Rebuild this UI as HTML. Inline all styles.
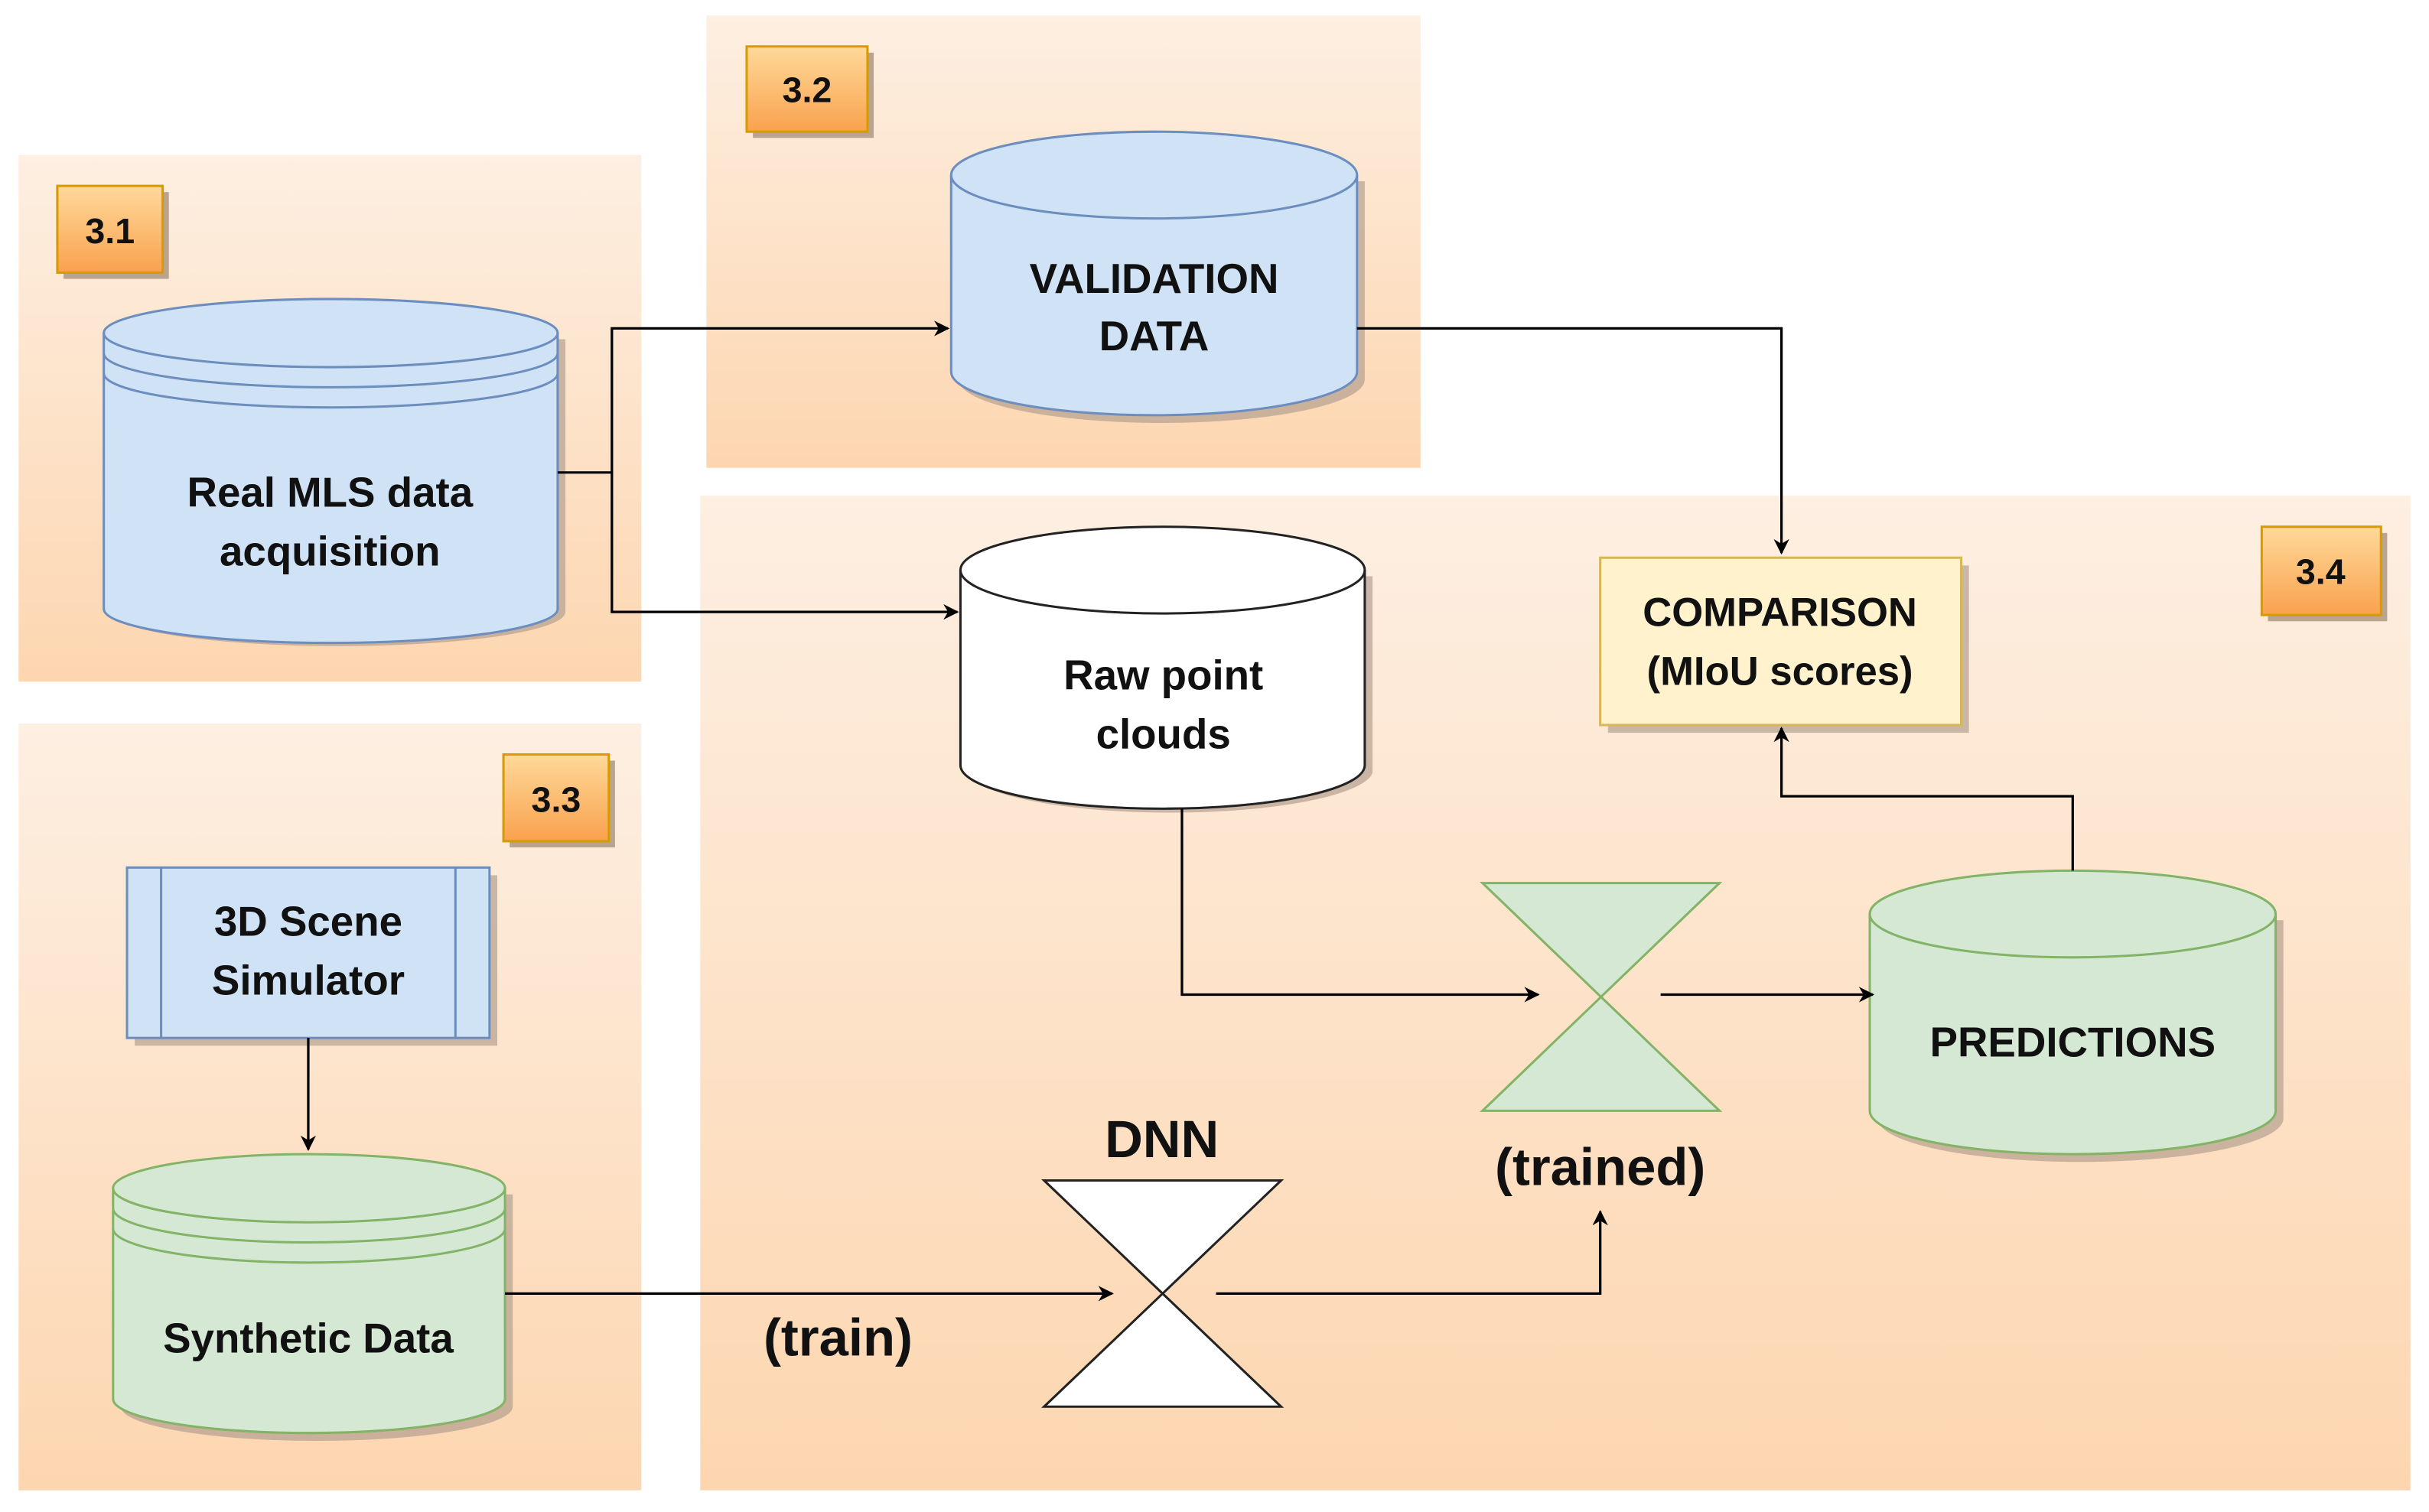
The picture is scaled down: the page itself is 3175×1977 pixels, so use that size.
<!DOCTYPE html>
<html><head><meta charset="utf-8"><style>
html,body{margin:0;padding:0;background:#fff;}
svg{display:block;}
text{font-family:"Liberation Sans",Arial,sans-serif;font-weight:bold;fill:#111;text-anchor:middle;}
</style></head><body>
<svg width="3175" height="1977" viewBox="0 0 1568 976" preserveAspectRatio="none" xmlns="http://www.w3.org/2000/svg">
<defs>
<linearGradient id="pg" x1="0" y1="0" x2="0" y2="1"><stop offset="0" stop-color="#fdefe2"/><stop offset="1" stop-color="#fdd6b0"/></linearGradient>
<linearGradient id="bg" x1="0" y1="0" x2="0" y2="1"><stop offset="0" stop-color="#ffd99a"/><stop offset="1" stop-color="#f9a24e"/></linearGradient>
<marker id="ar" markerWidth="10" markerHeight="10" refX="9" refY="5" orient="auto" markerUnits="userSpaceOnUse"><path d="M0,0 L10,5 L0,10 L3,5 z" fill="#000"/></marker>
</defs>
<rect x="12" y="100" width="402" height="340" fill="url(#pg)"/>
<rect x="456" y="10" width="461" height="292" fill="url(#pg)"/>
<rect x="12" y="467" width="402" height="495" fill="url(#pg)"/>
<rect x="452" y="320" width="1104" height="642" fill="url(#pg)"/>

<g stroke="#d79b00" stroke-width="1.5">
<rect x="41" y="124" width="68" height="56" fill="#b9a48f" stroke="none"/>
<rect x="37" y="120" width="68" height="56" fill="url(#bg)"/>
<rect x="486" y="34" width="78" height="55" fill="#b9a48f" stroke="none"/>
<rect x="482" y="30" width="78" height="55" fill="url(#bg)"/>
<rect x="329" y="491" width="68" height="56" fill="#b9a48f" stroke="none"/>
<rect x="325" y="487" width="68" height="56" fill="url(#bg)"/>
<rect x="1464" y="344" width="77" height="57" fill="#b9a48f" stroke="none"/>
<rect x="1460" y="340" width="77" height="57" fill="url(#bg)"/>
</g>
<text x="71" y="157" font-size="23">3.1</text>
<text x="521" y="66" font-size="23">3.2</text>
<text x="359" y="524" font-size="23">3.3</text>
<text x="1498" y="377" font-size="23">3.4</text>

<!-- shadows -->
<g fill="#b3a090" opacity="0.7">
<path d="M72,219 v176 a146,22 0 0 0 293,0 v-176 z"/>
<path d="M619,117 v128 a131,28 0 0 0 262,0 v-128 z"/>
<path d="M625,372 v127 a131,28 0 0 0 261,0 v-127 z"/>
<path d="M1212,594 v128 a131,28 0 0 0 262,0 v-128 z"/>
<path d="M78,771 v137 a126,22 0 0 0 253,0 v-137 z"/>
<rect x="87" y="565" width="234" height="110"/>
<rect x="1038" y="365" width="233" height="108"/>
</g>

<!-- Real MLS -->
<g stroke="#6c8ebf" stroke-width="1.5" fill="#d0e3f6">
<path d="M67,215 v178 a146.5,22 0 0 0 293,0 v-178 a146.5,22 0 0 0 -293,0 z"/>
<path d="M67,215 a146.5,22 0 0 0 293,0" fill="none"/>
<path d="M67,228 a146.5,22 0 0 0 293,0" fill="none"/>
<path d="M67,241 a146.5,22 0 0 0 293,0" fill="none"/>
</g>
<text x="213" y="327" font-size="27">Real MLS data</text>
<text x="213" y="365" font-size="27">acquisition</text>

<!-- Validation -->
<g stroke="#6c8ebf" stroke-width="1.5" fill="#d0e3f6">
<path d="M614,113 v127 a131,28 0 0 0 262,0 v-127 a131,28 0 0 0 -262,0 z"/>
<path d="M614,113 a131,28 0 0 0 262,0" fill="none"/>
</g>
<text x="745" y="189" font-size="27">VALIDATION</text>
<text x="745" y="226" font-size="27">DATA</text>

<!-- Raw point clouds -->
<g stroke="#222" stroke-width="1.5" fill="#fff">
<path d="M620,368 v126 a130.5,28 0 0 0 261,0 v-126 a130.5,28 0 0 0 -261,0 z"/>
<path d="M620,368 a130.5,28 0 0 0 261,0" fill="none"/>
</g>
<text x="751" y="445" font-size="27">Raw point</text>
<text x="751" y="483" font-size="27">clouds</text>

<!-- Comparison -->
<rect x="1033" y="360" width="233" height="108" fill="#fff2cc" stroke="#d6b656" stroke-width="1.5"/>
<text x="1149" y="404" font-size="26">COMPARISON</text>
<text x="1149" y="442" font-size="26">(MIoU scores)</text>

<!-- Predictions -->
<g stroke="#82b366" stroke-width="1.5" fill="#d5e8d4">
<path d="M1207,590 v127 a131,28 0 0 0 262,0 v-127 a131,28 0 0 0 -262,0 z"/>
<path d="M1207,590 a131,28 0 0 0 262,0" fill="none"/>
</g>
<text x="1338" y="682" font-size="27">PREDICTIONS</text>

<!-- trained hourglass -->
<path d="M957,570 L1110,570 L957,717 L1110,717 z" fill="#d5e8d4" stroke="#82b366" stroke-width="1.5"/>
<text x="1033" y="765" font-size="34">(trained)</text>

<!-- DNN hourglass -->
<path d="M674,762 L827,762 L674,908 L827,908 z" fill="#fff" stroke="#222" stroke-width="1.5"/>
<text x="750" y="747" font-size="34">DNN</text>
<text x="541" y="875" font-size="34">(train)</text>

<!-- Simulator -->
<g stroke="#6c8ebf" stroke-width="1.5" fill="#d0e3f6">
<rect x="82" y="560" width="234" height="110"/>
<line x1="104" y1="560" x2="104" y2="670"/>
<line x1="294" y1="560" x2="294" y2="670"/>
</g>
<text x="199" y="604" font-size="27">3D Scene</text>
<text x="199" y="642" font-size="27">Simulator</text>

<!-- Synthetic -->
<g stroke="#82b366" stroke-width="1.5" fill="#d5e8d4">
<path d="M73,767 v136 a126.5,22 0 0 0 253,0 v-136 a126.5,22 0 0 0 -253,0 z"/>
<path d="M73,767 a126.5,22 0 0 0 253,0" fill="none"/>
<path d="M73,780 a126.5,22 0 0 0 253,0" fill="none"/>
<path d="M73,793 a126.5,22 0 0 0 253,0" fill="none"/>
</g>
<text x="199" y="873" font-size="27">Synthetic Data</text>

<!-- connectors -->
<g stroke="#000" stroke-width="1.6" fill="none">
<path d="M360,305 H395 V212 H612" marker-end="url(#ar)"/>
<path d="M395,305 V395 H618" marker-end="url(#ar)"/>
<path d="M876,212 H1150 V357" marker-end="url(#ar)"/>
<path d="M763,522 V642 H993" marker-end="url(#ar)"/>
<path d="M1072,642 H1209" marker-end="url(#ar)"/>
<path d="M1338,562 V514 H1150 V470" marker-end="url(#ar)"/>
<path d="M199,670 V742" marker-end="url(#ar)"/>
<path d="M326,835 H718" marker-end="url(#ar)"/>
<path d="M785,835 H1033 V782" marker-end="url(#ar)"/>
</g>
</svg>
</body></html>
